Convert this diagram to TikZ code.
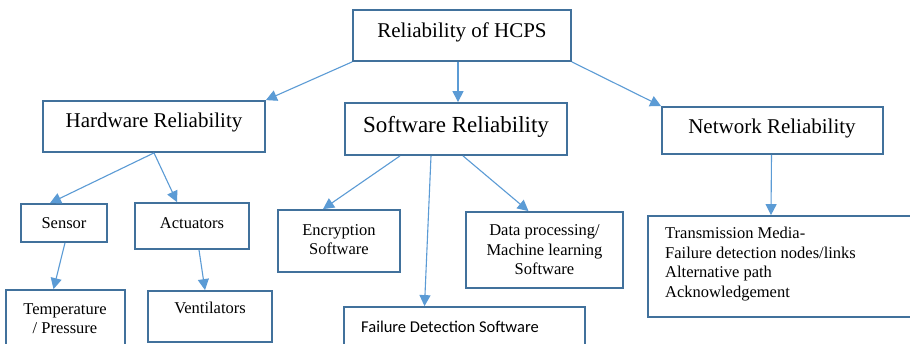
\documentclass[tikz,border=0pt]{standalone}
\usepackage{fontspec}
\setmainfont{Liberation Serif}
\newfontfamily\calfont{Carlito}
\usetikzlibrary{arrows.meta}
\definecolor{boxblue}{HTML}{41719C}
\definecolor{linkblue}{HTML}{5B9BD5}
\begin{document}
\begin{tikzpicture}[x=1pt,y=-1pt,
  box/.style={draw=boxblue,line width=1.8pt,rectangle,inner sep=0pt},
  big/.style={inner sep=0pt,font=\fontsize{21}{25}\selectfont},
  bigger/.style={inner sep=0pt,font=\fontsize{23}{27}\selectfont},
  small/.style={inner sep=0pt,font=\fontsize{16.5}{19.5}\selectfont,align=center},
  smallleft/.style={inner sep=0pt,font=\fontsize{16.5}{19.5}\selectfont,align=left},
  conn/.style={draw=linkblue,line width=1.1pt,-{Triangle[length=11pt,width=11pt]}}]
\clip (0,0) rectangle (910,343);
\fill[white] (0,0) rectangle (910,343);

% boxes
\node[box,minimum width=218pt,minimum height=51pt] (root) at (462,35.5) {};
\node[box,minimum width=222pt,minimum height=51pt] (hw) at (154,126.5) {};
\node[box,minimum width=222pt,minimum height=52pt] (sw) at (456,129) {};
\node[box,minimum width=221pt,minimum height=47pt] (net) at (772.5,130.5) {};
\node[box,minimum width=86pt,minimum height=38pt] (sensor) at (64,223) {};
\node[box,minimum width=114pt,minimum height=46pt] (act) at (192,226) {};
\node[box,minimum width=119pt,minimum height=80pt] (temp) at (65.5,330) {};
\node[box,minimum width=124pt,minimum height=51pt] (vent) at (210,316.5) {};
\node[box,minimum width=122pt,minimum height=62pt] (enc) at (339,241) {};
\node[box,minimum width=157pt,minimum height=76pt] (data) at (544.5,250) {};
\node[box,minimum width=241pt,minimum height=63pt] (fail) at (464.5,338.5) {};
\node[box,minimum width=282pt,minimum height=101pt] (trans) at (789,266.5) {};

% labels
\node[big] (rootT) at (462,32) {Reliability of HCPS};
\node[big] (hwT) at (154,122) {Hardware Reliability};
\node[bigger] (swT) at (456,127) {Software Reliability};
\node[big] (netT) at (772,128) {Network Reliability};
\node[small] (sensorT) at (64,223) {Sensor};
\node[small] (actT) at (192,223) {Actuators};
\node[small] (tempT) at (65,318.5) {Temperature\\/ Pressure};
\node[small] (ventT) at (210,308) {Ventilators};
\node[small] (encT) at (339,239.5) {Encryption\\Software};
\node[small] (dataT) at (544.5,250) {Data processing/\\Machine learning\\Software};
\node[inner sep=0pt,anchor=west,font=\calfont\fontsize{16.5}{19.5}\selectfont] (failT) at (361,327) {Failure Detection Software};
\node[smallleft,anchor=west] (transT) at (665,264) {Transmission Media-\\Failure detection nodes/links\\Alternative path\\Acknowledgement};

% connectors
\draw[conn] (root.south west) -- (hw.north east);
\draw[conn] ([xshift=-4pt]root.south) -- ([xshift=2pt]sw.north);
\draw[conn] (root.south east) -- (net.north west);
\draw[conn] (hw.south) -- ([xshift=-14pt]sensor.north);
\draw[conn] (hw.south) -- ([xshift=-15pt]act.north);
\draw[conn] ([xshift=1pt]sensor.south) -- ([xshift=-12pt]temp.north);
\draw[conn] ([xshift=7pt]act.south) -- ([xshift=-5pt]vent.north);
\draw[conn] ([xshift=-56pt]sw.south) -- ([xshift=-16pt]enc.north);
\draw[conn] ([xshift=-25pt]sw.south) -- ([xshift=-40pt]fail.north);
\draw[conn] ([xshift=7pt]sw.south) -- ([xshift=-16pt]data.north);
\draw[conn] ([xshift=-1pt]net.south) -- ([xshift=-18pt]trans.north);
\end{tikzpicture}
\end{document}
